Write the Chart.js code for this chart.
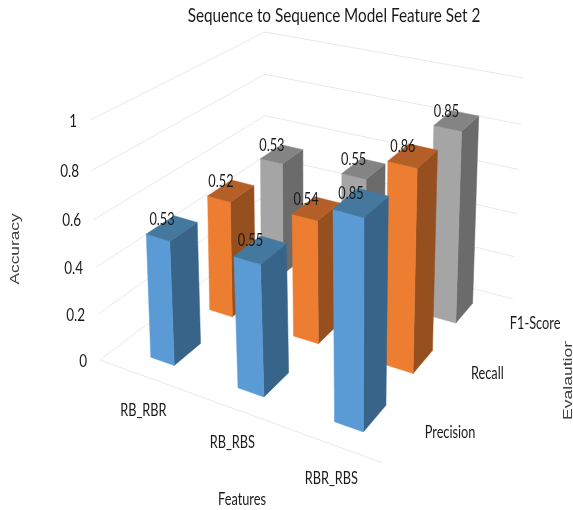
<!DOCTYPE html>
<html>
<head>
<meta charset="utf-8">
<script src="https://cdn.jsdelivr.net/npm/chart.js@4"></script>
<style>
  html, body { margin: 0; padding: 0; background: #fff; }
  #wrap { width: 573px; height: 510px; }
</style>
</head>
<body>
<div id="wrap"><canvas id="featureChart" width="573" height="510"></canvas></div>
<script>
const features = ['RB_RBR', 'RB_RBS', 'RBR_RBS'];
const metrics = ['Precision', 'Recall', 'F1-Score'];
const precision = [0.53, 0.55, 0.85];
const recall = [0.52, 0.54, 0.86];
const f1Score = [0.53, 0.55, 0.85];
const valueTicks = [0, 0.2, 0.4, 0.6, 0.8, 1];

// corners of the box: a = left, b = front, c = right, d = back
const floorMap = squareToQuad([100, 360], [383, 463], [513, 299], [265, 234]);
const roofMap = squareToQuad([90, 120], [386, 203], [523, 78], [265, 32]);

const faceColors = [
  { front: '#5b9bd5', side: '#39648a', top: '#44789f' },
  { front: '#ed7d31', side: '#964f1e', top: '#b45f27' },
  { front: '#a5a5a5', side: '#6b6b6b', top: '#848484' }
];
const BAR_DU = 0.093;
const BAR_DW = 0.145;
const BAR_SHIFT = 0.012;
const HEIGHT_BEND = 0.06;
const METRIC_NUDGE = [2, -7, 1];

// perspective map from the unit square onto a quad
function squareToQuad(p0, p1, p2, p3) {
  const dx1 = p1[0] - p2[0], dx2 = p3[0] - p2[0], sx = p0[0] - p1[0] + p2[0] - p3[0];
  const dy1 = p1[1] - p2[1], dy2 = p3[1] - p2[1], sy = p0[1] - p1[1] + p2[1] - p3[1];
  const den = dx1 * dy2 - dx2 * dy1;
  const g = (sx * dy2 - dx2 * sy) / den;
  const h = (dx1 * sy - sx * dy1) / den;
  return {
    g, h,
    a: p1[0] - p0[0] + g * p1[0], b: p3[0] - p0[0] + h * p3[0], c: p0[0],
    d: p1[1] - p0[1] + g * p1[1], e: p3[1] - p0[1] + h * p3[1], f: p0[1]
  };
}

function mapPoint(m, u, w) {
  const q = m.g * u + m.h * w + 1;
  return [(m.a * u + m.b * w + m.c) / q, (m.d * u + m.e * w + m.f) / q];
}

// u runs along the features, w along the metrics, t is the value height 0..1
function project(u, w, t) {
  const f = mapPoint(floorMap, u, w);
  const r = mapPoint(roofMap, u, w);
  const h = t / (1 + HEIGHT_BEND * (1 - t));
  return [f[0] + (r[0] - f[0]) * h, f[1] + (r[1] - f[1]) * h];
}

function face(ctx, pts, color) {
  ctx.beginPath();
  pts.forEach((p, i) => (i ? ctx.lineTo(p[0], p[1]) : ctx.moveTo(p[0], p[1])));
  ctx.closePath();
  ctx.fillStyle = color;
  ctx.fill();
  ctx.strokeStyle = color;
  ctx.lineWidth = 0.5;
  ctx.stroke();
}

// Lato squeezed sideways, the chart text is set in a narrow face
function label(ctx, text, x, y, size, align, squeeze) {
  ctx.save();
  ctx.translate(x, y);
  ctx.scale(squeeze || 0.75, 1);
  ctx.font = size + 'px Lato, sans-serif';
  ctx.fillStyle = '#1a1a1a';
  ctx.textAlign = align || 'center';
  ctx.textBaseline = 'middle';
  ctx.fillText(text, 0, 0);
  ctx.restore();
}

function sideTitle(ctx, text, x, y, stretch) {
  ctx.save();
  ctx.translate(x, y);
  ctx.rotate(-Math.PI / 2);
  ctx.scale(stretch, 1);
  ctx.font = '13px "Liberation Sans", sans-serif';
  ctx.fillStyle = '#404040';
  ctx.textAlign = 'center';
  ctx.textBaseline = 'alphabetic';
  ctx.fillText(text, 0, 0);
  ctx.restore();
}

const depthBars = {
  id: 'depthBars',
  beforeDatasetsDraw(chart) {
    const { ctx, scales } = chart;
    const y = scales.y;
    ctx.save();
    // wall lines at each value tick
    ctx.strokeStyle = '#e8e8e8';
    ctx.lineWidth = 1;
    valueTicks.forEach((v) => {
      const t = (y.bottom - y.getPixelForValue(v)) / y.height;
      ctx.beginPath();
      [[0, 0], [0, 1], [1, 1]].forEach((c, i) => {
        const p = project(c[0], c[1], t);
        i ? ctx.lineTo(p[0], p[1]) : ctx.moveTo(p[0], p[1]);
      });
      ctx.stroke();
    });
    const l = project(0, 0, 0), f = project(1, 0, 0);
    ctx.beginPath();
    ctx.moveTo(l[0], l[1]);
    ctx.lineTo(f[0], f[1]);
    ctx.stroke();
    ctx.restore();
  },
  afterDatasetsDraw(chart) {
    const { ctx, scales } = chart;
    const { x, y, z } = scales;
    const uOf = (i) => (x.getPixelForValue(i) - x.left) / x.width;
    const wOf = (j) => (z.getPixelForValue(j) - z.left) / z.width;
    const tags = [];
    ctx.save();
    // farthest metric first so nearer bars cover it
    for (let d = chart.data.datasets.length - 1; d >= 0; d--) {
      const meta = chart.getDatasetMeta(d);
      const colors = faceColors[d];
      meta.data.forEach((bar, i) => {
        const t = (y.bottom - bar.y) / y.height;
        const u = uOf(i) + BAR_SHIFT;
        const w = wOf(d);
        const u0 = u - BAR_DU / 2, u1 = u + BAR_DU / 2;
        const w0 = w - BAR_DW / 2, w1 = w + BAR_DW / 2;
        face(ctx, [project(u1, w0, 0), project(u1, w1, 0), project(u1, w1, t), project(u1, w0, t)], colors.side);
        face(ctx, [project(u0, w0, 0), project(u1, w0, 0), project(u1, w0, t), project(u0, w0, t)], colors.front);
        face(ctx, [project(u0, w0, t), project(u1, w0, t), project(u1, w1, t), project(u0, w1, t)], colors.top);
        const c = project(u, w, t);
        tags.push([chart.data.datasets[d].data[i].toFixed(2), c[0] - 10, c[1] - 9]);
      });
    }
    tags.forEach((g) => label(ctx, g[0], g[1], g[2], 17));

    // value axis labels follow the left wall edge
    valueTicks.forEach((v) => {
      const t = (y.bottom - y.getPixelForValue(v)) / y.height;
      const p = project(0, 0, t);
      label(ctx, String(v), p[0] - 13, p[1] + 1, 18, 'right');
    });

    // feature and metric labels sit off the floor edges
    features.forEach((name, i) => {
      const p = project(uOf(i), 0, 0);
      label(ctx, name, p[0] + 2, p[1] + 35, 17);
    });
    metrics.forEach((name, j) => {
      const p = project(1, wOf(j), 0);
      label(ctx, name, p[0] + 39 + METRIC_NUDGE[j], p[1] + 2, 17);
    });

    label(ctx, 'Features', 242, 500, 17);
    label(ctx, 'Sequence to Sequence Model Feature Set 2', 334, 16, 20, 'center', 0.765);
    sideTitle(ctx, 'Accuracy', 19, 249, 1.33);
    ctx.save();
    // the end of this title runs into the frame
    ctx.beginPath();
    ctx.rect(540, 341, 33, 100);
    ctx.clip();
    sideTitle(ctx, 'Evalaution', 572, 379, 1.35);
    ctx.restore();
    ctx.restore();
  }
};

new Chart(document.getElementById('featureChart').getContext('2d'), {
  type: 'bar',
  data: {
    labels: features,
    datasets: [
      { label: metrics[0], data: precision, backgroundColor: 'rgba(0,0,0,0)' },
      { label: metrics[1], data: recall, backgroundColor: 'rgba(0,0,0,0)' },
      { label: metrics[2], data: f1Score, backgroundColor: 'rgba(0,0,0,0)' }
    ]
  },
  options: {
    responsive: false,
    animation: false,
    plugins: {
      legend: { display: false },
      tooltip: { enabled: false }
    },
    scales: {
      x: { display: false },
      y: { display: false, min: 0, max: 1, ticks: { stepSize: 0.2 } },
      z: { type: 'category', axis: 'x', position: 'bottom', display: false, offset: true, labels: metrics }
    }
  },
  plugins: [depthBars]
});
</script>
</body>
</html>
